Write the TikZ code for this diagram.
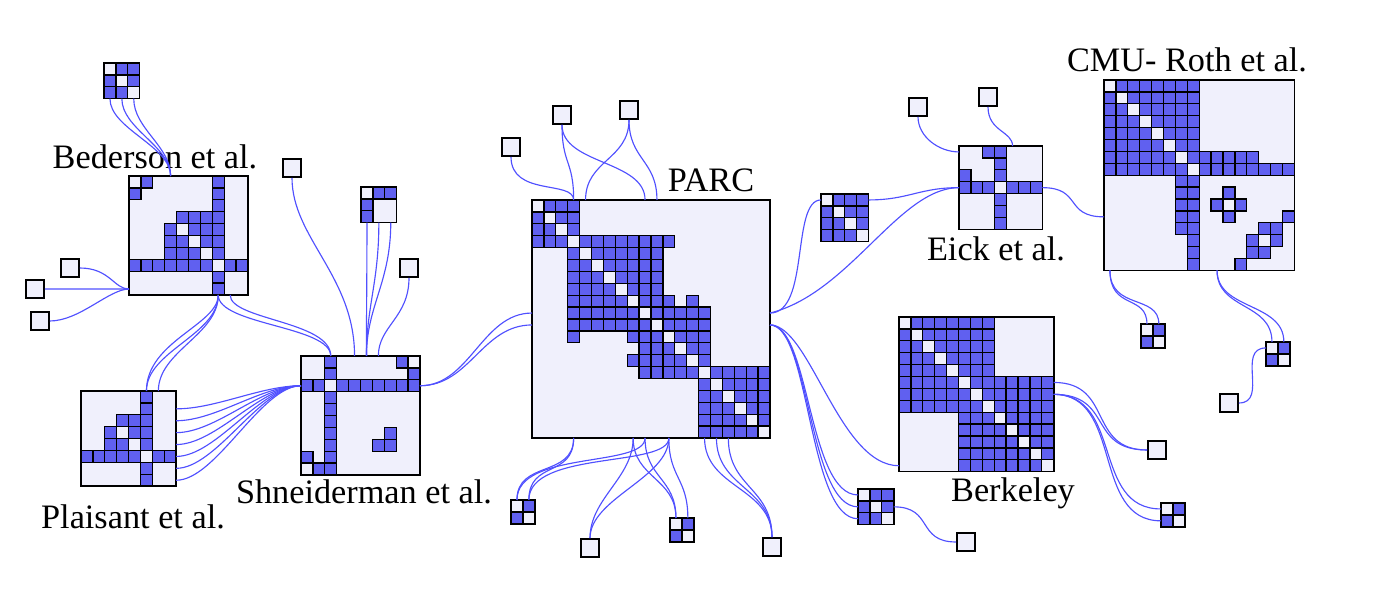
\documentclass[tikz,border=0pt]{standalone}
\usepackage{fontspec}
\setmainfont{Liberation Serif}
\usetikzlibrary{calc}

\definecolor{cellblue}{RGB}{96,96,240}
\definecolor{cellbg}{RGB}{240,240,252}
\definecolor{edgeblue}{RGB}{80,80,255}

\def\cs{11.9}
% cell blocks: rows #1..#2, columns #3..#4
\newcommand\bk[4]{\foreach \rr in {#1,...,#2} \foreach \cc in {#3,...,#4} \draw[bcell] (\cc*\cs,\rr*\cs) rectangle +(\cs,\cs);}
\newcommand\wh[2]{\draw[wcell] (#1*\cs,#2*\cs) rectangle +(\cs,\cs);}
\newcommand\dg[1]{\foreach \ii in {#1} \wh{\ii}{\ii}}
% matrix: name, x, y, size, cells
\newcommand\mtx[5]{\coordinate (#1) at (#2,#3);
  \begin{scope}[shift={(#1)}]
    \fill[cellbg] (0,0) rectangle (#4*\cs,#4*\cs);
    #5
    \draw[frm] (0,0) rectangle (#4*\cs,#4*\cs);
  \end{scope}}
\newcommand\pt[3]{($(#1)+(#2*\cs,#3*\cs)$)}

\begin{document}
\begin{tikzpicture}[x=0.02cm,y=-0.02cm,
  bcell/.style={fill=cellblue,draw=black,line width=0.75pt},
  wcell/.style={fill=cellbg,draw=black,line width=0.75pt},
  frm/.style={draw=black,line width=0.9pt},
  sgl/.style={draw=black,fill=cellbg,line width=0.9pt,minimum size=0.36cm,inner sep=0pt},
  ln/.style={draw=edgeblue,line width=0.65pt},
  lbl/.style={font=\fontsize{19.5}{22}\selectfont,inner sep=0pt}]
\useasboundingbox (0,0) rectangle (1400,607);

% matrices
\mtx{parc}{532}{200}{20}{\bk{0}{3}{0}{3}\bk{3}{3}{4}{11}\bk{4}{10}{3}{10}\bk{8}{8}{11}{11}\bk{8}{8}{13}{13}
  \bk{9}{10}{11}{14}\bk{11}{11}{3}{3}\bk{11}{11}{8}{14}\bk{12}{12}{9}{14}\bk{13}{13}{8}{14}
  \bk{14}{14}{9}{19}\bk{15}{19}{14}{19}\dg{0,...,19}}
\mtx{cmu}{1104}{80}{16}{\bk{0}{5}{0}{7}\bk{6}{6}{0}{12}\bk{7}{7}{0}{15}\bk{8}{12}{6}{7}\bk{13}{15}{7}{7}
  \bk{9}{9}{10}{10}\bk{10}{10}{9}{11}\bk{11}{11}{10}{10}\bk{11}{11}{15}{15}\bk{12}{12}{13}{14}
  \bk{13}{13}{12}{14}\bk{14}{14}{12}{13}\bk{15}{15}{11}{11}\dg{0,...,7,10,13}}
\mtx{bed}{129}{176}{10}{\bk{0}{0}{1}{1}\bk{1}{1}{0}{0}\bk{0}{9}{7}{7}\bk{3}{3}{4}{7}\bk{4}{6}{3}{7}\bk{7}{7}{0}{9}\dg{0,4,5,6,7}}
\mtx{pla}{81}{391}{8}{\bk{0}{7}{5}{5}\bk{2}{2}{3}{5}\bk{3}{4}{2}{5}\bk{5}{5}{0}{7}\dg{3,4,5}}
\mtx{shn}{301}{356}{10}{\bk{0}{9}{2}{2}\bk{2}{2}{0}{9}\bk{0}{0}{8}{8}\bk{1}{1}{9}{9}\bk{6}{6}{7}{7}\bk{7}{7}{6}{7}
  \bk{8}{8}{0}{0}\bk{9}{9}{1}{1}\dg{2}\wh{9}{0}\wh{0}{9}}
\mtx{eick}{959}{146}{7}{\bk{0}{0}{2}{2}\bk{0}{6}{3}{3}\bk{2}{2}{0}{0}\bk{3}{3}{0}{6}\dg{3}}
\mtx{berk}{899}{317}{13}{\bk{0}{4}{0}{7}\bk{5}{7}{0}{12}\bk{8}{12}{5}{12}\dg{0,...,12}}
\mtx{bt}{104}{63}{3}{\bk{0}{2}{0}{2}\dg{0,1,2}}
\mtx{st}{361}{187}{3}{\bk{0}{0}{1}{2}\bk{1}{2}{0}{0}\dg{0}}
\mtx{q4}{821}{194}{4}{\bk{0}{3}{0}{3}\dg{0,...,3}}
\mtx{t3}{858}{489}{3}{\bk{0}{2}{0}{2}\dg{0,1,2}}
\mtx{d1}{511}{500}{2}{\bk{0}{1}{0}{1}\dg{0,1}}
\mtx{d2}{670}{518}{2}{\bk{0}{1}{0}{1}\dg{0,1}}
\mtx{d4}{1161}{503}{2}{\bk{0}{1}{0}{1}\dg{0,1}}
\mtx{d5}{1141}{324}{2}{\bk{0}{1}{0}{1}\dg{0,1}}
\mtx{d6}{1266}{342}{2}{\bk{0}{1}{0}{1}\dg{0,1}}

% single nodes
\node[sgl] (sa) at (70,268) {};
\node[sgl] (sb) at (35,289) {};
\node[sgl] (sc) at (40,321) {};
\node[sgl] (sd) at (292,168) {};
\node[sgl] (se) at (409,268) {};
\node[sgl] (sf) at (511,147) {};
\node[sgl] (sg) at (562,115) {};
\node[sgl] (sh) at (629,110) {};
\node[sgl] (si) at (966,542) {};
\node[sgl] (sj) at (1157,450) {};
\node[sgl] (sk) at (590,548) {};
\node[sgl] (sl) at (772,547) {};
\node[sgl] (sm) at (918,107) {};
\node[sgl] (sn) at (988,97) {};
\node[sgl] (so) at (1229,403) {};

% labels
\node[lbl] (lbed) at (155,157) {Bederson et al.};
\node[lbl] (lpla) at (133,517) {Plaisant et al.};
\node[lbl] (lshn) at (364,492) {Shneiderman et al.};
\node[lbl] (lparc) at (711,180) {PARC};
\node[lbl] (leick) at (996,249) {Eick et al.};
\node[lbl] (lcmu) at (1187,60) {CMU- Roth et al.};
\node[lbl] (lberk) at (1013,493) {Berkeley};

% links
\foreach \k in {0.5,1.5,2.5} \draw[ln] \pt{bt}{\k}{3} .. controls +(0,30) and +(0,-30) .. \pt{bed}{3.5}{0};
\draw[ln] (sb.east) -- \pt{bed}{0}{9.5};
\draw[ln] (sa.east) .. controls +(30,0) and +(-15,0) .. \pt{bed}{0}{9.5};
\draw[ln] (sc.east) .. controls +(30,0) and +(-20,0) .. \pt{bed}{0}{9.5};
\draw[ln] \pt{bed}{7.5}{10} .. controls +(0,40) and +(0,-40) .. \pt{pla}{5.5}{0};
\draw[ln] \pt{bed}{7.5}{10} .. controls +(0,30) and +(0,-50) .. \pt{pla}{5.5}{0};
\draw[ln] \pt{bed}{7.5}{10} .. controls +(0,40) and +(0,-40) .. \pt{pla}{6.5}{0};
\draw[ln] \pt{bed}{7.5}{10} .. controls +(0,30) and +(0,-30) .. \pt{shn}{2.5}{0};
\draw[ln] \pt{bed}{8.5}{10} .. controls +(0,25) and +(0,-35) .. \pt{shn}{2.5}{0};
\foreach \r in {1.5,...,7.5} \draw[ln] \pt{pla}{8}{\r} .. controls +(40,0) and +(-40,0) .. \pt{shn}{0}{2.5};
\draw[ln] (sd.south) .. controls +(0,60) and +(0,-80) .. \pt{shn}{4.5}{0};
\foreach \k in {0.5,1.5,2.5} \draw[ln] \pt{st}{\k}{3} .. controls +(0,60) and +(0,-50) .. \pt{shn}{5.5}{0};
\draw[ln] (se.south) .. controls +(0,40) and +(0,-30) .. \pt{shn}{6.5}{0};
\draw[ln] \pt{shn}{10}{2.5} .. controls +(50,0) and +(-50,0) .. \pt{parc}{0}{9.5};
\draw[ln] \pt{shn}{10}{2.5} .. controls +(50,0) and +(-50,0) .. \pt{parc}{0}{10.5};
\draw[ln] (sf.south) .. controls +(0,40) and +(0,-20) .. \pt{parc}{3.5}{0};
\draw[ln] (sg.south) .. controls +(0,40) and +(0,-40) .. \pt{parc}{3.5}{0};
\draw[ln] (sg.south) .. controls +(0,40) and +(0,-40) .. \pt{parc}{9.5}{0};
\draw[ln] (sh.south) .. controls +(0,40) and +(0,-40) .. \pt{parc}{4.5}{0};
\draw[ln] (sh.south) .. controls +(0,40) and +(0,-40) .. \pt{parc}{10.5}{0};
\draw[ln] \pt{parc}{20}{9.5} .. controls +(40,0) and +(-30,0) .. \pt{q4}{0}{0.5};
\draw[ln] \pt{parc}{20}{9.5} .. controls +(80,-20) and +(-60,0) .. \pt{eick}{0}{3.5};
\draw[ln] \pt{q4}{4}{0.5} .. controls +(40,0) and +(-40,0) .. \pt{eick}{0}{3.5};
\draw[ln] \pt{parc}{20}{10.5} .. controls +(40,0) and +(-60,0) .. \pt{berk}{0}{12.5};
\foreach \r in {0.5,1.5,2.5} \draw[ln] \pt{parc}{20}{10.5} .. controls +(40,0) and +(-50,0) .. \pt{t3}{0}{\r};
\draw[ln] \pt{t3}{3}{1.5} .. controls +(40,0) and +(-40,0) .. (si.west);
\draw[ln] \pt{berk}{13}{5.5} .. controls +(60,0) and +(-60,0) .. (sj.west);
\draw[ln] \pt{berk}{13}{6.5} .. controls +(60,0) and +(-60,0) .. (sj.west);
\draw[ln] \pt{berk}{13}{6.5} .. controls +(70,0) and +(-70,0) .. \pt{d4}{0}{0.5};
\draw[ln] \pt{berk}{13}{6.5} .. controls +(70,0) and +(-70,0) .. \pt{d4}{0}{1.5};
\draw[ln] \pt{parc}{3.5}{20} .. controls +(0,40) and +(0,-40) .. \pt{d1}{0.5}{0};
\draw[ln] \pt{parc}{3.5}{20} .. controls +(0,40) and +(0,-40) .. \pt{d1}{1.5}{0};
\draw[ln] \pt{parc}{9.5}{20} .. controls +(0,30) and +(0,-50) .. \pt{d1}{0.5}{0};
\draw[ln] \pt{parc}{11.5}{20} .. controls +(0,30) and +(0,-50) .. \pt{d1}{1.5}{0};
\draw[ln] \pt{parc}{8.5}{20} .. controls +(0,40) and +(0,-40) .. (sk.north);
\draw[ln] \pt{parc}{11.5}{20} .. controls +(0,40) and +(0,-40) .. (sk.north);
\draw[ln] \pt{parc}{8.5}{20} .. controls +(0,40) and +(0,-40) .. \pt{d2}{0.5}{0};
\draw[ln] \pt{parc}{9.5}{20} .. controls +(0,40) and +(0,-40) .. \pt{d2}{0.5}{0};
\draw[ln] \pt{parc}{11.5}{20} .. controls +(0,40) and +(0,-40) .. \pt{d2}{1.5}{0};
\foreach \k in {14.5,15.5,16.5} \draw[ln] \pt{parc}{\k}{20} .. controls +(0,50) and +(0,-50) .. (sl.north);
\draw[ln] (sm.south) .. controls +(0,20) and +(-20,0) .. \pt{eick}{0}{0.5};
\draw[ln] (sn.south) .. controls +(0,25) and +(0,-15) .. \pt{eick}{4.5}{0};
\draw[ln] \pt{eick}{7}{3.5} .. controls +(40,0) and +(-40,0) .. \pt{cmu}{0}{11.5};
\draw[ln] \pt{cmu}{0.5}{16} .. controls +(0,40) and +(0,-30) .. \pt{d5}{0.5}{0};
\draw[ln] \pt{cmu}{0.5}{16} .. controls +(0,40) and +(0,-30) .. \pt{d5}{1.5}{0};
\draw[ln] \pt{cmu}{9.5}{16} .. controls +(0,40) and +(0,-40) .. \pt{d6}{0.5}{0};
\draw[ln] \pt{cmu}{9.5}{16} .. controls +(0,40) and +(0,-40) .. \pt{d6}{1.5}{0};
\draw[ln] \pt{d6}{0}{0.5} .. controls +(-30,0) and +(30,0) .. (so.east);
\end{tikzpicture}
\end{document}
